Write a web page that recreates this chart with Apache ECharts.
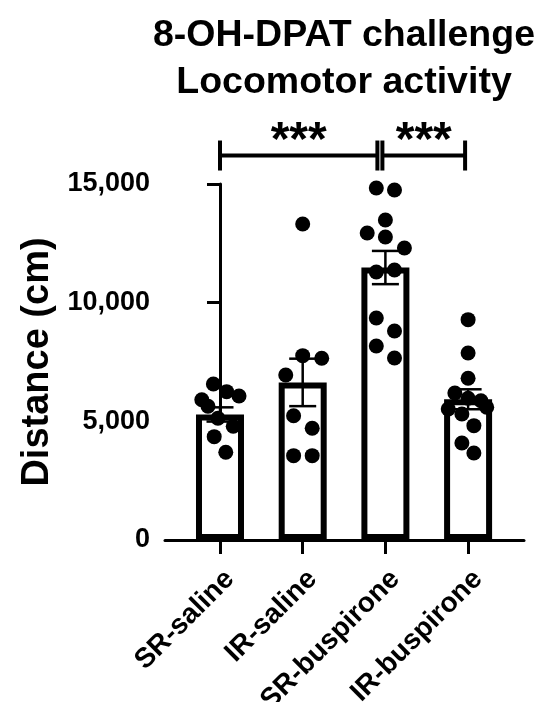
<!DOCTYPE html>
<html>
<head>
<meta charset="utf-8">
<script src="https://cdn.jsdelivr.net/npm/echarts@6/dist/echarts.min.js"></script>
<style>
html,body{margin:0;padding:0;background:#fff;}
#chart{width:540px;height:702px;}
</style>
</head>
<body>
<div id="chart"></div>
<script>
// ---- data ----
const categories = ['SR-saline', 'IR-saline', 'SR-buspirone', 'IR-buspirone'];
const means = [5290, 6640, 11480, 5930];
const sems = [300, 1000, 700, 420];
const dotsSRsaline = [6574, 6250, 6068, 5912, 5634, 5128, 4790, 4354, 3696];
const dotsIRsaline = [13316, 7767, 7657, 6953, 5238, 4707, 3553, 3553];
const dotsSRbuspirone = [14833, 14749, 13485, 12937, 12769, 12305, 11294, 11378, 9355, 8807, 8175, 7670];
const dotsIRbuspirone = [9285, 7880, 6814, 6195, 5971, 5870, 5520, 5310, 5592, 4817, 4088, 3666];
// horizontal jitter of each dot, in category units
const jitterSRsaline = [-0.08, 0.08, 0.23, -0.22, -0.145, -0.025, 0.16, -0.07, 0.07];
const jitterIRsaline = [0, 0, 0.23, -0.205, -0.11, 0.115, -0.11, 0.115];
const jitterSRbuspirone = [-0.11, 0.11, 0, -0.22, 0, 0.23, -0.11, 0.11, -0.11, 0.11, -0.11, 0.11];
const jitterIRbuspirone = [0, 0, 0, -0.16, 0, 0.155, -0.24, -0.075, 0.225, 0.07, -0.075, 0.07];
const yTicks = [0, 5000, 10000, 15000];
const comparisons = [[0, 2, '***'], [2, 3, '***']];
const bracketLevel = 16200;

const allDots = [dotsSRsaline, dotsIRsaline, dotsSRbuspirone, dotsIRbuspirone];
const allJitter = [jitterSRsaline, jitterIRsaline, jitterSRbuspirone, jitterIRbuspirone];

const FONT = '"Liberation Sans", Arial, sans-serif';
const scatterData = [];
allDots.forEach((arr, i) => arr.forEach((v, k) => scatterData.push([i + allJitter[i][k], v])));

const chart = echarts.init(document.getElementById('chart'), null, {renderer: 'canvas'});
const insets = [[0, -8], [-3, -3]];

chart.setOption({
  animation: false,
  backgroundColor: '#fff',
  title: {
    text: '8-OH-DPAT challenge\nLocomotor activity',
    left: 339, top: 7, textAlign: 'center',
    textStyle: {fontFamily: FONT, fontSize: 37.5, fontWeight: 'bold', color: '#000', lineHeight: 47}
  },
  grid: {left: 165, right: 16, top: 184, bottom: 162, containLabel: false, outerBoundsMode: 'none'},
  xAxis: {
    type: 'value', min: -0.665, max: 3.676,
    splitLine: {show: false},
    axisLine: {show: true, lineStyle: {color: '#000', width: 3}},
    axisTick: {show: true, customValues: [0, 1, 2, 3], length: 14, lineStyle: {color: '#000', width: 3}},
    axisLabel: {
      customValues: [0, 1, 2, 3],
      formatter: v => categories[Math.round(v)],
      rotate: 45, margin: 25, verticalAlign: 'top',
      fontFamily: FONT, fontSize: 28, fontWeight: 'bold', color: '#000'
    }
  },
  yAxis: {
    type: 'value', min: 0, max: 15000, interval: 5000,
    name: 'Distance (cm)', nameLocation: 'middle', nameGap: 108,
    nameTextStyle: {fontFamily: FONT, fontSize: 38, fontWeight: 'bold', color: '#000'},
    splitLine: {show: false},
    axisLine: {show: true, lineStyle: {color: '#000', width: 3}},
    axisTick: {show: true, length: 13, lineStyle: {color: '#000', width: 3}},
    axisLabel: {
      margin: 15,
      formatter: v => yTicks.includes(v) ? v.toLocaleString('en-US') : '',
      fontFamily: FONT, fontSize: 27, fontWeight: 'bold', color: '#000'
    }
  },
  series: [
    {
      type: 'bar', z: 2,
      data: means.map((m, i) => [i, m]),
      barWidth: 48,
      itemStyle: {color: '#fff', borderColor: '#000', borderWidth: 6}
    },
    {
      type: 'custom', z: 3,
      data: means.map((m, i) => [i, m, sems[i]]),
      renderItem: (params, api) => {
        const x = api.value(0), m = api.value(1), s = api.value(2);
        const top = api.coord([x, m + s]);
        const bot = api.coord([x, m - s]);
        const hw = 13.5;
        const st = {stroke: '#000', lineWidth: 2.5};
        return {type: 'group', children: [
          {type: 'line', shape: {x1: top[0], y1: top[1], x2: bot[0], y2: bot[1]}, style: st},
          {type: 'line', shape: {x1: top[0] - hw, y1: top[1], x2: top[0] + hw, y2: top[1]}, style: st},
          {type: 'line', shape: {x1: bot[0] - hw, y1: bot[1], x2: bot[0] + hw, y2: bot[1]}, style: st}
        ]};
      }
    },
    {
      type: 'scatter', z: 4,
      data: scatterData,
      symbol: 'circle', symbolSize: 15,
      itemStyle: {color: '#000', opacity: 1}
    },
    {
      type: 'custom', z: 5, clip: false,
      data: comparisons.map(c => [c[0], c[1], bracketLevel]),
      renderItem: (params, api) => {
        const i = params.dataIndex;
        const a = api.coord([api.value(0), api.value(2)]);
        const b = api.coord([api.value(1), api.value(2)]);
        const x1 = a[0] + insets[i][0], x2 = b[0] + insets[i][1], y = a[1];
        const st = {stroke: '#000', lineWidth: 4};
        return {type: 'group', children: [
          {type: 'line', shape: {x1: x1, y1: y, x2: x2, y2: y}, style: st},
          {type: 'line', shape: {x1: x1, y1: y - 15, x2: x1, y2: y + 15}, style: st},
          {type: 'line', shape: {x1: x2, y1: y - 15, x2: x2, y2: y + 15}, style: st},
          {type: 'text', x: (x1 + x2) / 2, y: y - 14, style: {
            text: comparisons[i][2], align: 'center', verticalAlign: 'middle',
            font: 'bold 48px ' + FONT, fill: '#000'
          }}
        ]};
      }
    }
  ]
});
</script>
</body>
</html>
